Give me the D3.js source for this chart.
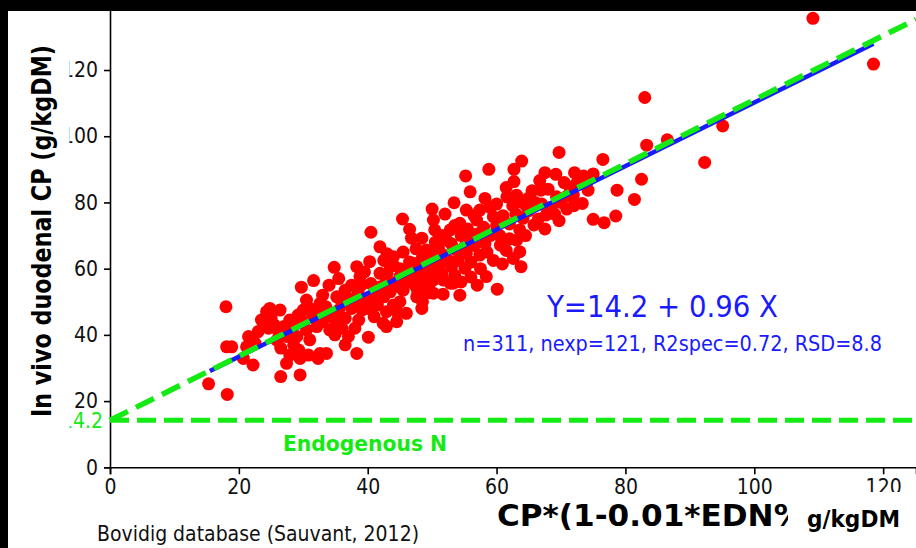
<!DOCTYPE html>
<html>
<head>
<meta charset="utf-8">
<script src="https://cdn.jsdelivr.net/npm/d3@7"></script>
<style>
  body { margin: 0; background: #000; }
  text { font-family: "DejaVu Sans Condensed", "DejaVu Sans", sans-serif; font-stretch: condensed; }
</style>
</head>
<body>
<div id="chart"></div>
<script>

const WIDTH = 916;
const HEIGHT = 548;

// tick labels
const xTicks = [0, 20, 40, 60, 80, 100, 120];
const yTicks = [0, 20, 40, 60, 80, 100, 120, 140];

// fitted line and endogenous N line
const intercept = 14.2;
const slope = 0.96;
const fitRange = [15.5, 118.5];
const endoSlope = 0.968;

// observations : [CP*(1-0.01*EDN%), in vivo duodenal CP]
const obsX = [
  109.1, 118.5, 83.0, 95.1, 86.5, 83.3, 76.5, 92.3, 82.5, 78.7, 81.4,
  69.7, 63.9, 58.8, 55.2, 62.7, 62.7, 66.7, 69.2, 72.1, 75.0, 74.2, 73.3, 70.9, 75.0, 76.7, 78.5,
  69.7, 67.7, 65.8, 71.4, 69.3, 66.9, 64.9, 61.6, 63.1, 64.7, 64.1, 63.6, 63.1, 63.6, 62.6, 63.8,
  60.9, 60.6, 58.4, 60.1, 58.2, 57.4, 55.9, 55.3, 53.4, 59.5, 56.9, 54.3, 52.8, 50.2, 50.4, 45.4,
  46.5, 48.4, 46.8, 49.1, 52.2, 53.8, 55.3, 57.4, 55.9, 58.2, 51.2, 53.0, 55.1, 51.7, 53.3, 54.3,
  50.2, 47.8, 46.0, 44.0, 43.5, 47.1, 45.0, 42.9, 41.9, 48.1, 71.9, 52.8, 49.4, 51.7,
  34.8, 31.6, 29.7, 30.5, 32.6, 35.2, 36.5, 38.3, 40.3, 38.8, 41.9, 48.1, 49.1, 47.6, 48.4, 50.2,
  42.9, 42.4, 42.9, 40.1, 38.3, 38.6, 39.1, 40.6, 41.9, 34.1, 34.9, 32.6, 29.3, 30.8, 27.9, 27.4,
  29.5, 32.3, 33.6, 29.5, 26.5, 32.1, 30.5, 27.9, 29.2, 27.4, 25.9, 24.6, 24.3, 24.8, 26.4, 21.5,
  21.2, 20.7, 22.2, 18.1, 18.9, 18.0, 15.3, 18.2, 44.5, 45.0, 47.1, 44.0, 40.5,
  23.0, 23.5, 25.0, 25.5, 26.0, 27.0, 28.0, 28.5, 29.0, 30.0, 26.5, 28.5, 31.0, 31.5, 30.0, 22.5,
  31.0, 32.5, 33.0, 33.5, 34.0, 35.0, 35.5, 36.0, 36.5, 37.0, 37.5, 38.0, 38.5, 39.0, 39.5, 40.0,
  40.5, 41.0, 36.0, 37.0, 33.0, 34.0, 35.5, 37.5, 39.5, 36.5, 38.0,
  41.5, 42.0, 42.5, 43.0, 43.5, 44.0, 44.5, 45.0, 45.5, 46.0, 46.5, 47.0, 47.5, 48.0, 48.5, 49.0,
  49.5, 50.0, 44.0, 42.5, 45.5, 47.5, 46.0, 44.5, 41.0, 43.0, 49.5, 50.0, 48.5,
  50.5, 51.0, 51.5, 52.0, 52.5, 53.0, 53.5, 54.0, 54.5, 55.0, 55.5, 56.0, 56.5, 57.0, 57.5, 58.0,
  58.5, 59.0, 59.5, 60.0, 51.5, 50.5, 53.5, 56.5, 52.0, 57.0, 56.0, 59.0, 54.5, 50.0,
  60.5, 61.0, 61.5, 62.0, 62.5, 63.0, 64.0, 64.5, 65.0, 65.5, 66.0, 66.5, 67.0, 67.5, 68.0, 68.5,
  69.0, 61.5, 60.0, 62.0, 70.0, 70.5, 67.5, 72.5, 73.5, 71.0, 72.0, 74.0
];
const obsY = [
  135.6, 121.8, 111.7, 103.1, 98.9, 97.3, 93.0, 92.1, 87.0, 83.7, 80.9,
  95.1, 92.5, 90.0, 88.0, 90.0, 86.3, 86.6, 88.5, 89.0, 88.6, 83.7, 79.7, 78.0, 74.9, 73.9, 75.9,
  74.5, 76.2, 73.2, 84.6, 81.7, 83.7, 81.2, 81.7, 82.2, 78.7, 75.2, 71.7, 68.6, 65.1, 63.1, 60.6,
  61.4, 67.1, 57.6, 53.8, 81.2, 77.7, 83.2, 77.7, 79.9, 75.7, 74.7, 73.7, 71.7, 74.7, 71.7, 75.0,
  71.9, 69.2, 69.2, 65.6, 68.6, 65.6, 64.6, 64.1, 69.6, 67.6, 61.6, 60.6, 60.1, 56.6, 55.6, 52.0,
  52.6, 52.6, 59.6, 63.6, 60.6, 61.6, 57.6, 56.6, 66.6, 56.6, 82.2, 55.6, 52.7, 52.3,
  60.4, 56.4, 54.4, 50.5, 49.5, 51.5, 53.5, 60.6, 62.1, 57.6, 58.6, 58.6, 53.5, 51.5, 48.0, 56.6,
  47.0, 43.5, 42.5, 39.3, 34.4, 44.5, 47.5, 51.0, 53.5, 41.5, 40.0, 34.4, 35.4, 33.9, 33.9, 31.4,
  32.9, 32.9, 34.4, 27.9, 27.4, 42.5, 41.5, 44.5, 46.0, 39.5, 38.4, 42.0, 47.0, 48.0, 47.5, 39.5,
  36.4, 32.9, 30.9, 36.4, 36.4, 48.5, 25.2, 22.0, 44.0, 50.0, 55.6, 54.5, 71.0,
  41.0, 44.5, 45.0, 43.0, 41.5, 42.5, 41.0, 43.0, 39.5, 44.0, 36.0, 37.0, 38.5, 45.5, 47.5, 37.5,
  48.0, 46.5, 44.0, 48.5, 46.0, 44.0, 47.5, 49.5, 45.0, 51.0, 48.0, 50.5, 53.0, 55.0, 50.0, 48.0,
  55.5, 52.0, 42.0, 39.5, 52.0, 55.0, 57.0, 55.0, 59.0, 37.0, 42.0,
  49.0, 54.5, 51.5, 58.5, 53.0, 49.0, 56.0, 60.0, 53.5, 56.5, 62.0, 58.0, 54.5, 61.0, 63.5, 58.5,
  61.5, 59.0, 61.0, 62.5, 65.0, 66.0, 46.5, 47.0, 45.5, 64.5, 55.0, 64.0, 50.0,
  62.0, 66.0, 58.5, 64.0, 62.5, 67.5, 58.0, 62.5, 70.0, 66.5, 72.0, 62.0, 67.0, 70.5, 60.0, 72.5,
  65.0, 70.0, 62.5, 73.0, 70.0, 68.0, 73.0, 76.0, 76.5, 55.0, 57.5, 78.5, 56.0, 78.0,
  70.0, 76.0, 65.5, 73.5, 79.0, 76.5, 80.0, 70.0, 77.5, 83.5, 80.0, 75.0, 79.5, 72.0, 84.0, 78.5,
  76.5, 84.5, 79.5, 69.0, 80.0, 86.0, 89.0, 86.0, 88.0, 82.0, 79.0, 86.0
];

const GREEN = "#14ea14";
const BLUE = "#1a1aff";
const RED = "#ff0000";

var svg = d3.select("#chart").append("svg")
    .attr("width", WIDTH)
    .attr("height", HEIGHT)
    .style("display", "block");

// white sheet
svg.append("rect")
    .attr("x", 0).attr("y", 0)
    .attr("width", WIDTH).attr("height", HEIGHT)
    .attr("fill", "white");

var x = d3.scaleLinear().domain([0, 125.1]).range([110, 916]);
var y = d3.scaleLinear().domain([0, 140]).range([467.3, 3.8]);

// axes
var xAxis = svg.append("g")
    .attr("transform", "translate(0," + y(0) + ")")
    .call(d3.axisBottom(x).tickValues(xTicks).tickSizeOuter(0).tickSize(7).tickPadding(5));
var yAxis = svg.append("g")
    .attr("transform", "translate(" + x(0) + ",0)")
    .call(d3.axisLeft(y).tickValues(yTicks).tickSizeOuter(0).tickSize(6).tickPadding(6));

[xAxis, yAxis].forEach(function (g) {
    g.selectAll("path, line").attr("stroke", "#000").attr("stroke-width", 1.6);
    g.selectAll("text")
        .attr("font-size", 21)
        .attr("fill", "#111");
    g.attr("font-family", null);
});

// points
var points = obsX.map(function (v, i) { return [v, obsY[i]]; });
svg.append("g").selectAll("circle")
    .data(points)
    .enter().append("circle")
    .attr("cx", function (d) { return x(d[0]); })
    .attr("cy", function (d) { return y(d[1]); })
    .attr("r", 6.5)
    .attr("fill", RED);

// regression line
svg.append("line")
    .attr("x1", x(fitRange[0]))
    .attr("y1", y(intercept + slope * fitRange[0]))
    .attr("x2", x(fitRange[1]))
    .attr("y2", y(intercept + slope * fitRange[1]))
    .attr("stroke", BLUE)
    .attr("stroke-width", 4.5);

// green dashed lines
svg.append("line")
    .attr("x1", x(0)).attr("y1", y(intercept))
    .attr("x2", x(125.1)).attr("y2", y(intercept))
    .attr("stroke", GREEN).attr("stroke-width", 5)
    .attr("stroke-dasharray", "19,8");
svg.append("line")
    .attr("x1", x(0)).attr("y1", y(intercept))
    .attr("x2", x(125.1)).attr("y2", y(intercept + endoSlope * 125.1))
    .attr("stroke", GREEN).attr("stroke-width", 5.5)
    .attr("stroke-dasharray", "20,9");

svg.append("text")
    .attr("x", 103).attr("y", y(intercept))
    .attr("dy", "0.36em")
    .attr("text-anchor", "end")
    .attr("font-size", 21)
    .attr("fill", GREEN)
    .text("14.2");

svg.append("text")
    .attr("x", 283).attr("y", 451)
    .attr("font-size", 21)
    .attr("font-weight", "bold")
    .attr("fill", GREEN)
    .attr("textLength", 164)
    .attr("lengthAdjust", "spacingAndGlyphs")
    .text("Endogenous N");

// equation
svg.append("text")
    .attr("x", 547).attr("y", 317)
    .attr("font-size", 31)
    .attr("fill", BLUE)
    .attr("textLength", 231)
    .attr("lengthAdjust", "spacingAndGlyphs")
    .text("Y=14.2 + 0.96 X");
svg.append("text")
    .attr("x", 463).attr("y", 351)
    .attr("font-size", 21)
    .attr("fill", BLUE)
    .attr("textLength", 419)
    .attr("lengthAdjust", "spacingAndGlyphs")
    .text("n=311, nexp=121, R2spec=0.72, RSD=8.8");

// x title, its right part is hidden by the unit box
svg.append("text")
    .attr("x", 497).attr("y", 526)
    .attr("font-size", 31)
    .attr("font-weight", "bold")
    .attr("fill", "#000")
    .attr("textLength", 322)
    .attr("lengthAdjust", "spacingAndGlyphs")
    .text("CP*(1-0.01*EDN%)");
svg.append("rect")
    .attr("x", 788).attr("y", 492)
    .attr("width", 128).attr("height", 56)
    .attr("fill", "white");
svg.append("text")
    .attr("x", 807).attr("y", 527)
    .attr("font-size", 23)
    .attr("font-weight", "bold")
    .attr("fill", "#000")
    .attr("textLength", 93)
    .attr("lengthAdjust", "spacingAndGlyphs")
    .text("g/kgDM");

svg.append("text")
    .attr("x", 97).attr("y", 541)
    .attr("font-size", 21)
    .attr("fill", "#111")
    .attr("textLength", 322)
    .attr("lengthAdjust", "spacingAndGlyphs")
    .text("Bovidig database (Sauvant, 2012)");

// y title box covers the left of the tick labels
svg.append("rect")
    .attr("x", 0).attr("y", 0)
    .attr("width", 69.5).attr("height", 460)
    .attr("fill", "white");
svg.append("text")
    .attr("transform", "translate(51,231) rotate(-90)")
    .attr("text-anchor", "middle")
    .attr("font-size", 27)
    .attr("font-weight", "bold")
    .attr("fill", "#000")
    .attr("textLength", 372)
    .attr("lengthAdjust", "spacingAndGlyphs")
    .text("In vivo duodenal CP (g/kgDM)");

// black frame of the screenshot
svg.append("rect").attr("x", 0).attr("y", 0).attr("width", WIDTH).attr("height", 11).attr("fill", "#000");
svg.append("rect").attr("x", 0).attr("y", 0).attr("width", 8).attr("height", HEIGHT).attr("fill", "#000");

</script>
</body>
</html>
